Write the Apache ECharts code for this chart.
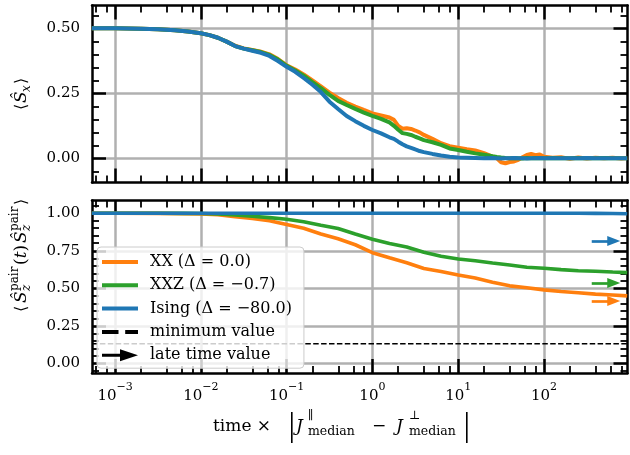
<!DOCTYPE html>
<html>
<head>
<meta charset="utf-8">
<script src="https://cdn.jsdelivr.net/npm/echarts@6/dist/echarts.min.js"></script>
<style>
  html, body { margin: 0; padding: 0; background: #ffffff; }
  #chart { width: 630px; height: 455px; }
</style>
</head>
<body>
<div id="chart"></div>
<script>
// ---- time grid of the upper panel (transverse magnetisation) ----
const TIME_TOP = [0.000537, 0.001, 0.002, 0.00316, 0.00501, 0.00708, 0.01, 0.0126, 0.0158, 0.02,
  0.0251, 0.0316, 0.0398, 0.0501, 0.0631, 0.0794, 0.1, 0.126, 0.158, 0.2,
  0.251, 0.316, 0.398, 0.501, 0.631, 0.794, 1, 1.26, 1.58, 1.78,
  2.0, 2.24, 2.51, 2.82, 3.16, 3.55, 3.98, 5.01, 6.31, 7.94,
  10, 12.6, 15.8, 20, 25.1, 28.2, 31.6, 35.5, 39.8, 44.7,
  50.1, 56.2, 63.1, 70.8, 79.4, 89.1, 100, 126, 158, 200,
  251, 316, 398, 501, 631, 794, 933];

const XX_TOP = [0.500, 0.500, 0.499, 0.497, 0.493, 0.488, 0.481, 0.474, 0.464, 0.449,
  0.433, 0.423, 0.417, 0.410, 0.400, 0.382, 0.358, 0.342, 0.323, 0.300,
  0.277, 0.253, 0.232, 0.214, 0.199, 0.186, 0.173, 0.165, 0.157, 0.148,
  0.125, 0.114, 0.116, 0.113, 0.107, 0.100, 0.090, 0.075, 0.058, 0.047,
  0.041, 0.035, 0.030, 0.020, 0.007, 0.000, -0.015, -0.019, -0.014, -0.012,
  -0.006, 0.004, 0.013, 0.017, 0.012, 0.015, 0.006, 0.002, 0.004, -0.002,
  0.003, -0.001, 0.002, 0.000, 0.002, -0.001, 0.001];

const XXZ_TOP = [0.500, 0.500, 0.499, 0.497, 0.493, 0.488, 0.481, 0.474, 0.464, 0.449,
  0.432, 0.422, 0.416, 0.409, 0.398, 0.380, 0.356, 0.338, 0.318, 0.293,
  0.270, 0.244, 0.221, 0.205, 0.190, 0.176, 0.163, 0.152, 0.138, 0.125,
  0.110, 0.097, 0.094, 0.090, 0.083, 0.077, 0.070, 0.062, 0.052, 0.038,
  0.032, 0.025, 0.019, 0.014, 0.008, 0.005, 0.003, 0.001, 0.000, 0.001,
  0.000, -0.001, 0.001, 0.000, 0.001, 0.000, 0.000, 0.001, 0.000, 0.000,
  0.001, 0.000, 0.000, 0.001, 0.000, 0.000, 0.000];

const ISING_TOP = [0.500, 0.500, 0.499, 0.497, 0.493, 0.488, 0.481, 0.474, 0.464, 0.449,
  0.432, 0.422, 0.414, 0.406, 0.394, 0.374, 0.352, 0.333, 0.309, 0.283,
  0.255, 0.218, 0.190, 0.163, 0.143, 0.125, 0.109, 0.096, 0.081, 0.075,
  0.064, 0.054, 0.046, 0.040, 0.034, 0.028, 0.024, 0.017, 0.011, 0.006,
  0.003, 0.002, 0.001, 0.000, 0.001, 0.000, -0.001, 0.000, 0.000, 0.001,
  0.000, 0.000, -0.001, 0.000, 0.000, 0.001, 0.000, 0.000, 0.000, 0.000,
  0.000, 0.001, 0.000, 0.000, 0.000, 0.000, 0.000];

// ---- time grid of the lower panel (pair correlator) ----
const TIME_BOT = [0.000537, 0.001, 0.00316, 0.00631, 0.01, 0.0158, 0.0251, 0.0398, 0.0631, 0.1,
  0.158, 0.251, 0.398, 0.631, 1, 1.58, 2.51, 3.98, 6.31, 10,
  15.8, 25.1, 39.8, 63.1, 100, 158, 251, 398, 631, 933];

const XX_BOT = [1.000, 1.000, 0.999, 0.997, 0.995, 0.990, 0.977, 0.965, 0.950, 0.925,
  0.900, 0.862, 0.830, 0.790, 0.737, 0.703, 0.670, 0.632, 0.612, 0.589,
  0.568, 0.540, 0.516, 0.503, 0.489, 0.478, 0.470, 0.461, 0.455, 0.449];

const XXZ_BOT = [1.000, 1.000, 1.000, 0.999, 0.998, 0.995, 0.989, 0.980, 0.971, 0.960,
  0.943, 0.920, 0.898, 0.862, 0.827, 0.798, 0.775, 0.740, 0.713, 0.695,
  0.683, 0.668, 0.655, 0.640, 0.633, 0.624, 0.617, 0.613, 0.608, 0.604];

const ISING_BOT = [1.000, 1.000, 1.000, 1.000, 1.000, 1.000, 1.000, 1.000, 1.000, 1.000,
  1.000, 1.000, 1.000, 1.000, 1.000, 1.000, 1.000, 1.000, 1.000, 1.000,
  1.000, 1.000, 1.000, 1.000, 1.000, 1.000, 1.000, 0.999, 0.998, 0.997];

// reference levels of the correlator
const MINIMUM_VALUE = 0.13;
const LATE_XX = 0.415;
const LATE_XXZ = 0.535;
const LATE_ISING = 0.815;

// ticks
const X_MAJOR = [0.001, 0.01, 0.1, 1, 10, 100];
const X_MINOR = [0.0006, 0.0008, 0.002, 0.004, 0.006, 0.008, 0.02, 0.04, 0.06, 0.08,
  0.2, 0.4, 0.6, 0.8, 2, 4, 6, 8, 20, 40, 60, 80, 200, 400, 600, 800];
const Y_TOP_MAJOR = [0, 0.25, 0.5];
const Y_TOP_MINOR = [-0.05, 0.05, 0.1, 0.15, 0.2, 0.3, 0.35, 0.4, 0.45, 0.55];
const Y_BOT_MAJOR = [0, 0.25, 0.5, 0.75, 1];
const Y_BOT_MINOR = [-0.05, 0.05, 0.1, 0.15, 0.2, 0.3, 0.35, 0.4, 0.45, 0.55,
  0.6, 0.65, 0.7, 0.8, 0.85, 0.9, 0.95, 1.05];

const NAMES = ['XX (Δ = 0.0)', 'XXZ (Δ = −0.7)', 'Ising (Δ = −80.0)', 'minimum value', 'late time value'];

// ---- styling ----
const FONT = '"DejaVu Serif", serif';
const C_XX = '#ff7f0e', C_XXZ = '#2ca02c', C_ISING = '#1f77b4';
const GRID_COLOR = '#b0b0b0';
const X_RANGE = [5.39e-4, 940];
const Y_TOP_RANGE = [-0.093, 0.588];
const Y_BOT_RANGE = [-0.065, 1.085];
const ARROW_FROM = 360, ARROW_TO = 650;

const pairs = (t, v) => t.map((x, i) => [x, v[i]]);

const spine = { show: true, onZero: false, lineStyle: { color: '#000', width: 2.5 } };
const noSpine = { show: false, onZero: false };
const tickMajor = vals => ({ show: true, inside: true, length: 14, customValues: vals, lineStyle: { color: '#000', width: 2.5 } });
const tickMinor = vals => ({ show: true, inside: true, length: 7, customValues: vals, lineStyle: { color: '#000', width: 1.8 } });
const gridLine = { show: true, lineStyle: { color: GRID_COLOR, width: 2.5 } };

function powerLabel(v) {
  const e = Math.round(Math.log10(v));
  return '{b|10}{s|' + String(e).replace('-', '−') + '}';
}

function xAxesFor(g, withLabels) {
  const base = { type: 'log', logBase: 10, gridIndex: g, min: X_RANGE[0], max: X_RANGE[1], z: 3 };
  return [
    Object.assign({}, base, {
      position: 'bottom', axisLine: spine, axisTick: tickMajor(X_MAJOR), splitLine: gridLine,
      axisLabel: withLabels ? {
        show: true, customValues: X_MAJOR, margin: 9, formatter: powerLabel,
        rich: {
          b: { fontFamily: FONT, fontSize: 15, color: '#000', lineHeight: 22, verticalAlign: 'bottom' },
          s: { fontFamily: FONT, fontSize: 11, color: '#000', lineHeight: 12, verticalAlign: 'top' }
        }
      } : { show: false }
    }),
    Object.assign({}, base, { position: 'bottom', axisLine: noSpine, axisTick: tickMinor(X_MINOR), axisLabel: { show: false }, splitLine: { show: false } }),
    Object.assign({}, base, { position: 'top', axisLine: spine, axisTick: tickMajor(X_MAJOR), axisLabel: { show: false }, splitLine: { show: false } }),
    Object.assign({}, base, { position: 'top', axisLine: noSpine, axisTick: tickMinor(X_MINOR), axisLabel: { show: false }, splitLine: { show: false } })
  ];
}

function yAxesFor(g, range, major, minor) {
  const base = { type: 'value', gridIndex: g, min: range[0], max: range[1], z: 3 };
  return [
    Object.assign({}, base, {
      position: 'left', axisLine: spine, axisTick: tickMajor(major), splitLine: gridLine,
      axisLabel: { show: true, customValues: major, margin: 12, fontFamily: FONT, fontSize: 15, color: '#000',
        formatter: v => v.toFixed(2) }
    }),
    Object.assign({}, base, { position: 'left', axisLine: noSpine, axisTick: tickMinor(minor), axisLabel: { show: false }, splitLine: { show: false } }),
    Object.assign({}, base, { position: 'right', axisLine: spine, axisTick: tickMajor(major), axisLabel: { show: false }, splitLine: { show: false } }),
    Object.assign({}, base, { position: 'right', axisLine: noSpine, axisTick: tickMinor(minor), axisLabel: { show: false }, splitLine: { show: false } })
  ];
}

function curve(name, color, grid, t, v, width) {
  return {
    type: 'line', name: name, xAxisIndex: grid * 4, yAxisIndex: grid * 4,
    data: pairs(t, v), symbol: 'none', showSymbol: false, z: 4,
    color: color, lineStyle: { color: color, width: width }
  };
}

function lateArrow(level, color) {
  return {
    silent: true, symbol: ['none', 'triangle'], symbolSize: [10, 13],
    label: { show: false },
    lineStyle: { color: color, width: 2.7, type: 'solid' },
    data: [[{ coord: [ARROW_FROM, level] }, { coord: [ARROW_TO, level] }]]
  };
}

// text helpers for the math-style axis titles
function txt(s, x, y, size, italic, extra) {
  return Object.assign({
    type: 'text', x: x, y: y,
    style: Object.assign({
      text: s, fill: '#000',
      font: (italic ? 'italic ' : '') + size + 'px ' + FONT,
      align: 'left', verticalAlign: 'middle', textAlign: 'left', textVerticalAlign: 'middle'
    }, extra || {})
  });
}

const series = [
  curve(NAMES[0], C_XX, 0, TIME_TOP, XX_TOP, 4),
  curve(NAMES[1], C_XXZ, 0, TIME_TOP, XXZ_TOP, 4),
  curve(NAMES[2], C_ISING, 0, TIME_TOP, ISING_TOP, 4),
  Object.assign(curve(NAMES[0], C_XX, 1, TIME_BOT, XX_BOT, 3.6), { markLine: lateArrow(LATE_XX, C_XX) }),
  Object.assign(curve(NAMES[1], C_XXZ, 1, TIME_BOT, XXZ_BOT, 3.6), { markLine: lateArrow(LATE_XXZ, C_XXZ) }),
  Object.assign(curve(NAMES[2], C_ISING, 1, TIME_BOT, ISING_BOT, 3.6), { markLine: lateArrow(LATE_ISING, C_ISING) }),
  {
    type: 'line', name: NAMES[3], xAxisIndex: 4, yAxisIndex: 4, symbol: 'none', z: 3,
    data: [[X_RANGE[0], MINIMUM_VALUE], [X_RANGE[1], MINIMUM_VALUE]],
    color: '#000', lineStyle: { color: '#000', width: 1.5, type: [5.5, 2.4] }
  },
  { type: 'line', name: NAMES[4], xAxisIndex: 4, yAxisIndex: 4, symbol: 'none', data: [], color: '#000' }
];

const LINE_ICON = 'path://M0,0L36,0L36,4L0,4Z';
const DASH_ICON = 'path://M0,0L16.5,0L16.5,4L0,4Z M23.2,0L36,0L36,4L23.2,4Z';
const ARROW_ICON = 'path://M0,4.5L18,4.5L18,0L36,6L18,12L18,7.5L0,7.5Z';

const option = {
  animation: false,
  backgroundColor: '#ffffff',
  grid: [
    { left: 92, top: 5.5, width: 535.5, height: 177, containLabel: false },
    { left: 92, top: 200.5, width: 535.5, height: 172.5, containLabel: false }
  ],
  xAxis: xAxesFor(0, false).concat(xAxesFor(1, true)),
  yAxis: yAxesFor(0, Y_TOP_RANGE, Y_TOP_MAJOR, Y_TOP_MINOR).concat(yAxesFor(1, Y_BOT_RANGE, Y_BOT_MAJOR, Y_BOT_MINOR)),
  legend: {
    orient: 'vertical', left: 97, top: 247,
    itemWidth: 36, itemHeight: 14, itemGap: 7.3,
    padding: [7, 12, 5, 5],
    backgroundColor: 'rgba(255,255,255,0.8)', borderColor: '#cccccc', borderWidth: 1, borderRadius: 4,
    selectedMode: false,
    itemStyle: { borderWidth: 0 },
    textStyle: { fontFamily: FONT, fontSize: 16, color: '#000', padding: [0, 0, 0, 7], lineHeight: 14 },
    data: [
      { name: NAMES[0], icon: LINE_ICON },
      { name: NAMES[1], icon: LINE_ICON },
      { name: NAMES[2], icon: LINE_ICON },
      { name: NAMES[3], icon: DASH_ICON },
      { name: NAMES[4], icon: ARROW_ICON }
    ]
  },
  series: series,
  graphic: [
    // upper y title: <S_x>
    {
      type: 'group', x: 22, y: 94, rotation: Math.PI / 2,
      children: [
        txt('⟨', -16, 0, 16, false),
        txt('Ŝ', -9, 0, 17, true),
        txt('x', 2, 5, 12, true),
        txt('⟩', 10, 0, 16, false)
      ]
    },
    // lower y title: <S_z^pair(t) S_z^pair>
    {
      type: 'group', x: 22, y: 256, rotation: Math.PI / 2,
      children: [
        txt('⟨', -56, 0, 16, false),
        txt('Ŝ', -47, 0, 17, true),
        txt('pair', -35, -7, 12, false),
        txt('z', -35, 5, 12, true),
        txt('({i|t})', -9, 0, 17, false, { rich: { i: { fontFamily: FONT, fontStyle: 'italic', fontSize: 17 } } }),
        txt('Ŝ', 13, 0, 17, true),
        txt('pair', 25, -7, 12, false),
        txt('z', 25, 5, 12, true),
        txt('⟩', 51, 0, 16, false)
      ]
    },
    // x title: time x |J^par_median - J^perp_median|
    txt('time ×', 213, 427, 17, false),
    txt('|', 291.7, 427, 33, false, { font: '33px "Liberation Serif", serif', align: 'center', textAlign: 'center' }),
    txt('J', 296, 427, 17, true),
    txt('∥', 308, 416, 12, false),
    txt('median', 308, 432, 12.5, false),
    txt('−', 379, 427, 17, false, { align: 'center', textAlign: 'center' }),
    txt('J', 396, 427, 17, true),
    txt('⊥', 409, 416, 12, false),
    txt('median', 409, 432, 12.5, false),
    txt('|', 466.7, 427, 33, false, { font: '33px "Liberation Serif", serif', align: 'center', textAlign: 'center' })
  ]
};

const chart = echarts.init(document.getElementById('chart'), null, { renderer: 'canvas' });
chart.setOption(option);
</script>
</body>
</html>
